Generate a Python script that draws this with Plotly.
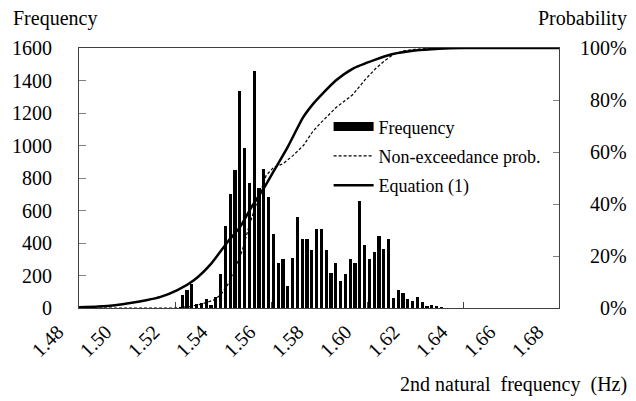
import plotly.graph_objects as go

# ---------------- data ----------------
bin_centers = [1.523, 1.525, 1.527, 1.529, 1.531, 1.533, 1.535, 1.537, 1.539, 1.541,
               1.543, 1.545, 1.547, 1.549, 1.551, 1.553, 1.555, 1.557, 1.559, 1.561,
               1.563, 1.565, 1.567, 1.569, 1.571, 1.573, 1.575, 1.577, 1.579, 1.581,
               1.583, 1.585, 1.587, 1.589, 1.591, 1.593, 1.595, 1.597, 1.599, 1.601,
               1.603, 1.605, 1.607, 1.609, 1.611, 1.613, 1.615, 1.617, 1.619, 1.621,
               1.623, 1.625, 1.627, 1.629, 1.631]
counts = [80, 111, 145, 23, 33, 55, 18, 70, 207, 507,
          700, 850, 1335, 983, 771, 1458, 740, 855, 685, 453,
          277, 302, 138, 310, 562, 423, 423, 355, 486, 486,
          355, 218, 275, 167, 207, 301, 275, 660, 388, 302,
          345, 444, 361, 423, 60, 109, 90, 53, 43, 70,
          36, 8, 17, 13, 4]

nonexc_f = [1.48, 1.52, 1.526, 1.531, 1.536, 1.539, 1.542, 1.545, 1.548, 1.551,
            1.555, 1.558, 1.561, 1.565, 1.569, 1.5735, 1.5775, 1.5805, 1.587, 1.594,
            1.5994, 1.6035, 1.6072, 1.611, 1.615, 1.62, 1.63, 1.68]
nonexc_p = [0, 0, 0.5, 1.5, 3, 5, 9, 15, 22, 32,
            43, 51, 54, 55.5, 58.5, 62.5, 68, 71, 77, 82,
            88, 92, 95, 97.5, 98.8, 99.5, 100, 100]

eq_f = [1.48, 1.488, 1.495, 1.502, 1.508, 1.514, 1.521, 1.528, 1.535, 1.542,
        1.547, 1.552, 1.557, 1.562, 1.567, 1.5735, 1.578, 1.581, 1.587, 1.594,
        1.6035, 1.61, 1.62, 1.63, 1.64, 1.68]
eq_p = [0.3, 0.6, 1.1, 2.0, 3.0, 4.3, 6.9, 10.8, 17, 25.5,
        31, 39, 46, 54, 62, 73.5, 79, 82, 87.5, 92,
        95.5, 97.5, 99, 99.7, 100, 100]

x_tick_vals = [1.48, 1.50, 1.52, 1.54, 1.56, 1.58, 1.60, 1.62, 1.64, 1.66, 1.68]
x_tick_text = ["1.48", "1.50", "1.52", "1.54", "1.56", "1.58", "1.60", "1.62", "1.64", "1.66", "1.68"]
x_mark_vals = [1.48, 1.52, 1.56, 1.60, 1.64, 1.68]
y_tick_vals = [0, 200, 400, 600, 800, 1000, 1200, 1400, 1600]
p_tick_vals = [0, 20, 40, 60, 80, 100]
p_tick_text = ["0%", "20%", "40%", "60%", "80%", "100%"]

FONT = "Liberation Serif, Times New Roman, DejaVu Serif, serif"
AX = "#404040"

fig = go.Figure()
fig.add_trace(go.Bar(x=bin_centers, y=counts, width=0.0013, marker=dict(color="black", line=dict(width=0)),
                     showlegend=False, name="Frequency"))
fig.add_trace(go.Scatter(x=[None], y=[None], mode="lines", line=dict(color="black", width=9),
                         name="Frequency", legendgroup="g1"))
fig.add_trace(go.Scatter(x=nonexc_f, y=nonexc_p, mode="lines", yaxis="y2",
                         line=dict(color="black", width=1.2, dash="3px,2px"),
                         name="Non-exceedance prob.", legendgroup="g2"))
fig.add_trace(go.Scatter(x=eq_f, y=eq_p, mode="lines", yaxis="y2",
                         line=dict(color="black", width=2.5, shape="spline", smoothing=0.6),
                         name="Equation (1)", legendgroup="g3"))
# invisible trace to carry the tick-mark axis
fig.add_trace(go.Scatter(x=[1.48], y=[0], xaxis="x3", mode="markers", marker=dict(opacity=0),
                         showlegend=False, hoverinfo="skip"))

fig.update_layout(
    width=636, height=401,
    margin=dict(l=73, r=77, t=48, b=93),
    plot_bgcolor="white", paper_bgcolor="white",
    font=dict(family=FONT, size=20, color="black"),
    xaxis=dict(range=[1.48, 1.68], tickvals=x_tick_vals,
               ticktext=[t + "\u00a0" * 6 for t in x_tick_text],
               tickangle=-45,
               ticks="", showline=True, linecolor=AX, linewidth=1.2, mirror=True,
               showgrid=False, zeroline=False, ticklabelstandoff=-18),
    xaxis3=dict(range=[1.48, 1.68], overlaying="x", anchor="y", tickvals=x_mark_vals,
                ticks="inside", ticklen=6, tickcolor=AX, showticklabels=False,
                showline=False, showgrid=False, zeroline=False),
    yaxis=dict(range=[0, 1600], tickvals=y_tick_vals, ticks="inside", ticklen=7, tickcolor="#808080",
               showline=True, linecolor=AX, linewidth=1.2, mirror=True, showgrid=False,
               zeroline=False, ticklabelstandoff=22),
    yaxis2=dict(range=[0, 100], overlaying="y", side="right", tickvals=p_tick_vals,
                ticks="inside", ticklen=6, tickcolor="#808080", showticklabels=False,
                showline=False, showgrid=False, zeroline=False),
    legend=dict(x=0.52, y=0.768, xanchor="left", yanchor="top", font=dict(size=18),
                bgcolor="rgba(0,0,0,0)", traceorder="grouped", tracegroupgap=3, itemwidth=40),
    showlegend=True,
    bargap=0,
)

annots = [
    dict(text="Frequency", xref="paper", yref="paper", x=-0.142, y=1.115, xanchor="left",
         yanchor="middle", showarrow=False, font=dict(size=20)),
    dict(text="Probability", xref="paper", yref="paper", x=1.146, y=1.115, xanchor="right",
         yanchor="middle", showarrow=False, font=dict(size=20)),
    dict(text="2nd natural  frequency  (Hz)", xref="paper", yref="paper", x=1.146, y=-0.296,
         xanchor="right", yanchor="middle", showarrow=False, font=dict(size=20)),
]
for v, t in zip(p_tick_vals, p_tick_text):
    annots.append(dict(text=t, xref="paper", yref="y2", x=1.146, y=v, xanchor="right",
                       yanchor="middle", showarrow=False, font=dict(size=20)))
fig.update_layout(annotations=annots)

fig.write_html("out.html")
